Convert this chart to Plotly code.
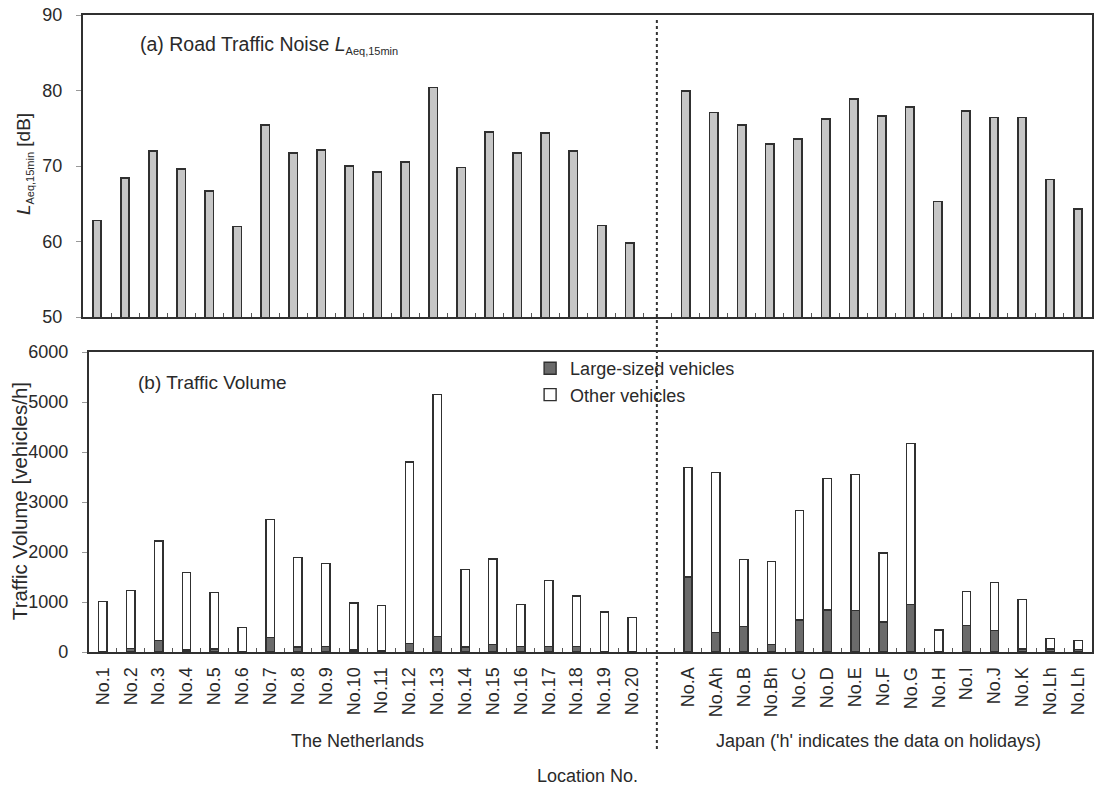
import plotly.graph_objects as go

# Location labels (one empty slot separates the two countries)
nl_sites = ["No.1", "No.2", "No.3", "No.4", "No.5", "No.6", "No.7", "No.8", "No.9", "No.10",
            "No.11", "No.12", "No.13", "No.14", "No.15", "No.16", "No.17", "No.18", "No.19", "No.20"]
jp_sites = ["No.A", "No.Ah", "No.B", "No.Bh", "No.C", "No.D", "No.E", "No.F", "No.G", "No.H",
            "No.I", "No.J", "No.K", "No.Lh", "No.Lh"]

# (a) Road traffic noise L_Aeq,15min [dB]
nl_laeq = [62.8, 68.4, 72.0, 69.6, 66.7, 62.0, 75.4, 71.7, 72.1, 70.0,
           69.2, 70.5, 80.4, 69.8, 74.5, 71.7, 74.4, 72.0, 62.1, 59.8]
jp_laeq = [79.9, 77.1, 75.4, 72.9, 73.6, 76.2, 78.9, 76.6, 77.8, 65.3,
           77.3, 76.4, 76.4, 68.2, 64.3]

# (b) Traffic volume [vehicles/h]
nl_total = [1010, 1234, 2220, 1590, 1195, 490, 2655, 1890, 1770, 980,
            935, 3800, 5155, 1650, 1860, 950, 1430, 1120, 800, 690]
nl_large = [10, 70, 230, 40, 60, 10, 290, 100, 110, 40,
            20, 170, 314, 100, 150, 110, 110, 110, 10, 10]
jp_total = [3690, 3590, 1850, 1815, 2830, 3475, 3550, 1980, 4175, 440,
            1210, 1390, 1050, 270, 235]
jp_large = [1500, 390, 515, 150, 640, 840, 835, 600, 955, 10,
            530, 435, 60, 60, 50]

# positions: NL at 0..19, gap at 20, Japan at 21..35
nl_x = list(range(len(nl_sites)))
jp_x = [len(nl_sites) + 1 + i for i in range(len(jp_sites))]
xs = nl_x + jp_x
labels = nl_sites + jp_sites
laeq = nl_laeq + jp_laeq
large = nl_large + jp_large
other = [t - l for t, l in zip(nl_total + jp_total, large)]

FONT = "Liberation Sans, Arial, sans-serif"
INK = "#2a2a2a"
EDGE = "#303030"

# pixel layout helpers
W, H = 1096, 788
L, R, T, B = 83, 2, 15, 136
PW, PH = W - L - R, H - T - B


def px_x(px):
    return (px - L) / PW


def px_y(py):
    return (H - B - py) / PH


def laeq_symbol(sub_px):
    return ("<i>L</i><sub><span style='font-size:%dpx'>Aeq,15min</span></sub>" % sub_px)


fig = go.Figure()

fig.add_trace(go.Bar(
    x=xs, y=laeq, width=0.3, xaxis="x", yaxis="y",
    marker=dict(color="#c6c6c6", line=dict(color=EDGE, width=1.6)),
    showlegend=False,
))
fig.add_trace(go.Bar(
    x=xs, y=large, width=0.3, xaxis="x2", yaxis="y2", name="Large-sized vehicles",
    marker=dict(color="#6b6b6b", line=dict(color=EDGE, width=1.4)),
))
fig.add_trace(go.Bar(
    x=xs, y=other, width=0.3, xaxis="x2", yaxis="y2", name="Other vehicles",
    marker=dict(color="white", line=dict(color=EDGE, width=1.4)),
))

n_slots = len(nl_sites) + 1 + len(jp_sites)
xrange = [-0.5, n_slots - 0.5]
boundaries = [k + 0.5 for k in range(n_slots - 1)]

axis_common = dict(showline=True, linecolor=EDGE, linewidth=2, mirror=True,
                   showgrid=False, zeroline=False)

fig.update_layout(
    width=W, height=H,
    margin=dict(l=L, r=R, t=T, b=B),
    paper_bgcolor="white", plot_bgcolor="white",
    barmode="stack",
    font=dict(family=FONT, size=18, color=INK),
    xaxis=dict(domain=[0, 1], anchor="y", range=xrange, tickmode="array",
               tickvals=boundaries, ticks="inside", ticklen=4, tickcolor="#555",
               showticklabels=False, **axis_common),
    yaxis=dict(domain=[px_y(317), 1], anchor="x", range=[50, 90], tickvals=[50, 60, 70, 80, 90],
               ticks="outside", ticklen=5, tickcolor="#999", ticklabelstandoff=10, **axis_common),
    xaxis2=dict(domain=[px_x(89), 1], anchor="y2", range=xrange, tickmode="array",
                tickvals=xs, ticktext=labels, tickangle=-90, ticks="", ticklabelstandoff=6,
                minor=dict(tickmode="array", tickvals=boundaries, ticks="inside",
                           ticklen=4, tickcolor="#555"),
                **axis_common),
    yaxis2=dict(domain=[0, px_y(352)], anchor="x2", range=[0, 6000], dtick=1000,
                ticks="outside", ticklen=5, tickcolor="#999", ticklabelstandoff=10, **axis_common),
    legend=dict(x=px_x(531), y=px_y(350), xanchor="left", yanchor="top",
                traceorder="normal", bgcolor="rgba(0,0,0,0)", font=dict(size=18),
                itemwidth=30, tracegroupgap=0),
    showlegend=True,
)

# dotted divider between the two countries
fig.add_shape(type="line", xref="paper", yref="paper",
              x0=px_x(658), x1=px_x(658), y0=px_y(20), y1=px_y(750),
              line=dict(color="#333", width=2, dash="dot"))

annotations = [
    dict(x=px_x(138), y=px_y(45), xanchor="left", yanchor="middle",
         text="(a) Road Traffic Noise " + laeq_symbol(11), font=dict(size=19.5)),
    dict(x=px_x(136), y=px_y(382), xanchor="left", yanchor="middle",
         text="(b) Traffic Volume", font=dict(size=19)),
    dict(x=px_x(24), y=px_y(164), xanchor="center", yanchor="middle", textangle=-90,
         text=laeq_symbol(11) + " [dB]", font=dict(size=19)),
    dict(x=px_x(19), y=px_y(501), xanchor="center", yanchor="middle", textangle=-90,
         text="Traffic Volume [vehicles/h]", font=dict(size=20.5)),
    dict(x=px_x(358), y=px_y(741), xanchor="center", yanchor="middle",
         text="The Netherlands"),
    dict(x=px_x(880), y=px_y(741), xanchor="center", yanchor="middle",
         text="Japan ('h' indicates the data on holidays)"),
    dict(x=px_x(588), y=px_y(776), xanchor="center", yanchor="middle",
         text="Location No."),
]
for a in annotations:
    fig.add_annotation(xref="paper", yref="paper", showarrow=False, **a)

fig.write_html("out.html")
